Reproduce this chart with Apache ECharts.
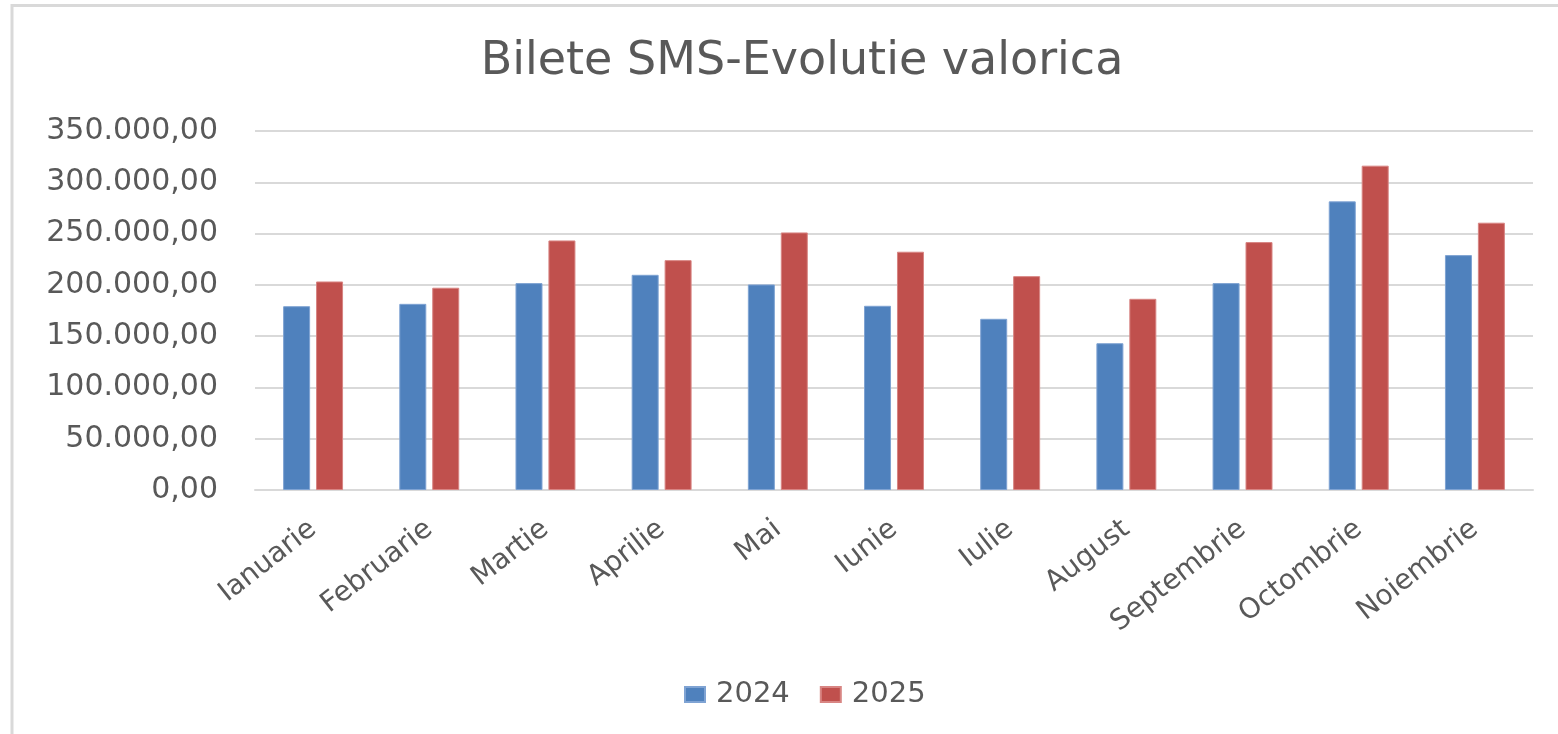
<!DOCTYPE html>
<html>
<head>
<meta charset="utf-8">
<script src="https://cdn.jsdelivr.net/npm/echarts@6/dist/echarts.min.js"></script>
<style>
  html, body { margin: 0; padding: 0; background: #fff; }
  #chart { width: 1558px; height: 734px; }
</style>
</head>
<body>
<div id="chart"></div>
<script>
// date din grafic
const luni = ['Ianuarie', 'Februarie', 'Martie', 'Aprilie', 'Mai', 'Iunie', 'Iulie', 'August', 'Septembrie', 'Octombrie', 'Noiembrie'];
const valori2024 = [179200, 181500, 201700, 209800, 200400, 179600, 166900, 143100, 201700, 281400, 229000];
const valori2025 = [203300, 197200, 243300, 224100, 251100, 232300, 208500, 186400, 241700, 316200, 260600];
const ani = ['2024', '2025'];

let myChart = echarts.init(document.getElementById('chart'));

// 350000 -> 350.000,00
function formatRo(v) {
  let s = Math.round(v).toString().replace(/\B(?=(\d{3})+(?!\d))/g, '.');
  return s + ',00';
}

const font = 'DejaVu Sans';
const textColor = '#595959';

let option = {
  animation: false,
  title: {
    text: 'Bilete SMS-Evolutie valorica',
    left: 797,
    top: 34,
    textAlign: 'center',
    textStyle: { fontFamily: font, fontSize: 46, fontWeight: 'normal', color: textColor },
  },
  legend: {
    data: ani,
    left: 679,
    top: 675,
    itemWidth: 20,
    itemHeight: 15,
    itemGap: 30,
    icon: 'rect',
    textStyle: { fontFamily: font, fontSize: 29, color: textColor, padding: [0, 0, 0, 6] },
  },
  grid: {
    left: 255,
    right: 25,
    top: 131,
    bottom: 244,
    containLabel: false,
  },
  xAxis: {
    type: 'category',
    data: luni,
    axisTick: { show: false },
    axisLine: { lineStyle: { color: '#D9D9D9', width: 2 } },
    axisLabel: {
      interval: 0,
      rotate: 38,
      margin: 36,
      fontFamily: font,
      fontSize: 28,
      color: textColor,
    },
  },
  yAxis: {
    type: 'value',
    min: 0,
    max: 350000,
    interval: 50000,
    axisLine: { show: false },
    axisTick: { show: false },
    splitLine: { lineStyle: { color: '#D9D9D9', width: 2 } },
    axisLabel: {
      margin: 37,
      fontFamily: font,
      fontSize: 30,
      color: textColor,
      formatter: formatRo,
    },
  },
  series: [
    {
      name: ani[0],
      type: 'bar',
      data: valori2024,
      barWidth: 27,
      barGap: '22%',
      itemStyle: { color: '#4F81BD', borderColor: '#7FA3D3', borderWidth: 1 },
    },
    {
      name: ani[1],
      type: 'bar',
      data: valori2025,
      barWidth: 27,
      itemStyle: { color: '#C0504D', borderColor: '#D88583', borderWidth: 1 },
    },
  ],
  // chenarul graficului (stanga + sus)
  graphic: [
    {
      type: 'rect',
      shape: { x: 12, y: 5.5, width: 2000, height: 2000 },
      style: { fill: 'none', stroke: '#D9D9D9', lineWidth: 3 },
      silent: true,
    },
  ],
};

myChart.setOption(option);
</script>
</body>
</html>
